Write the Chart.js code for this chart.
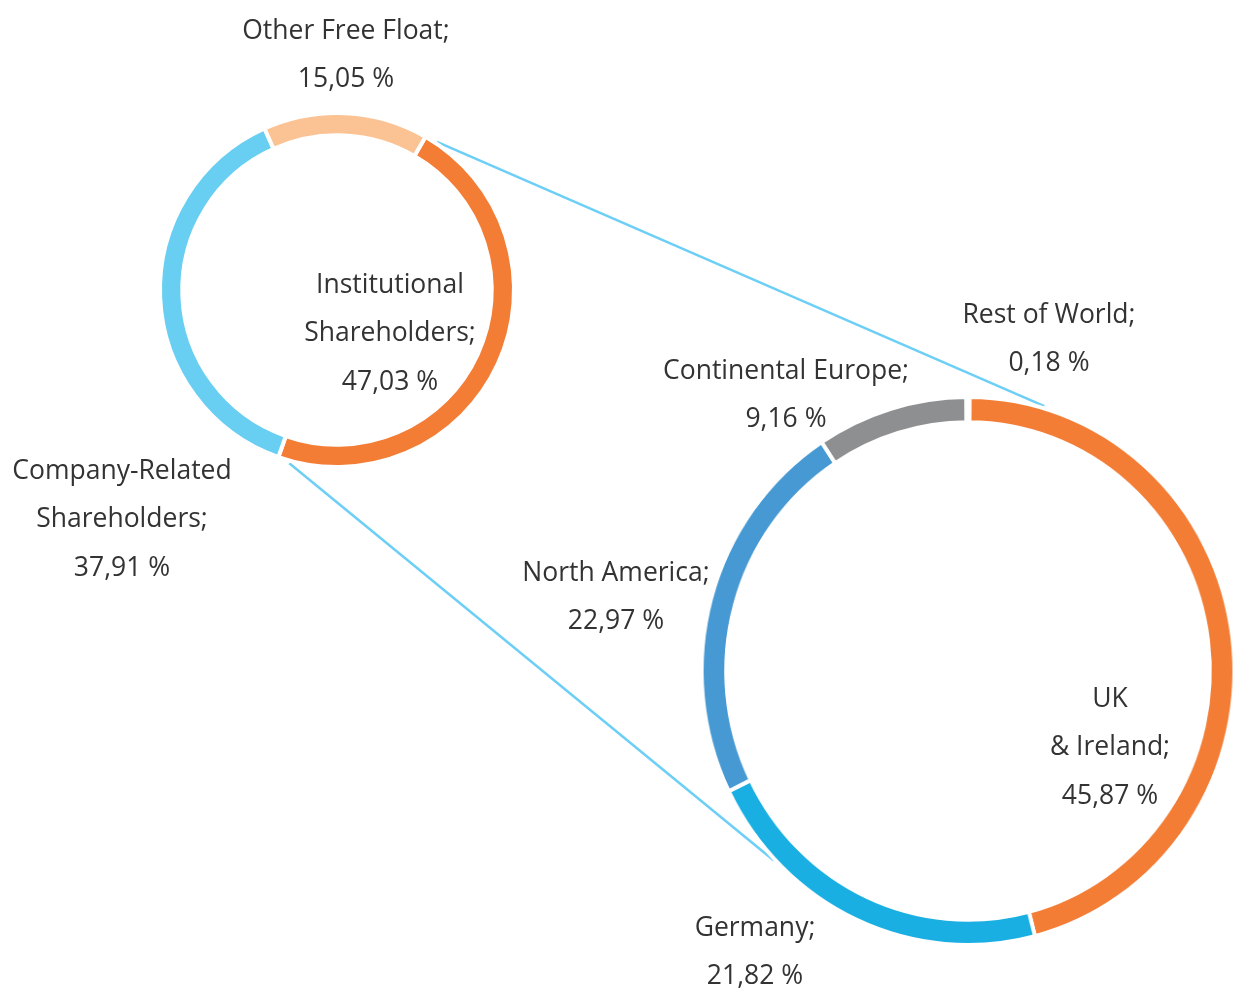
<!DOCTYPE html>
<html>
<head>
<meta charset="utf-8">
<title>Shareholder structure</title>
<script src="https://cdn.jsdelivr.net/npm/chart.js@4.4.1/dist/chart.umd.min.js"></script>
<style>
    html, body { margin: 0; padding: 0; background: #fff; overflow: hidden; }
    #wrap { position: relative; width: 1237px; height: 990px; }
    #smallChart { position: absolute; left: 0; top: 0; }
    #largeChart { position: absolute; left: 668px; top: 371px; transform: scaleX(0.972); transform-origin: 300px 300px; }
</style>
</head>
<body>
<div id="wrap">
    <canvas id="smallChart" width="1237" height="990"></canvas>
    <canvas id="largeChart" width="600" height="600"></canvas>
</div>
<script>
// Shareholder structure (outer ring)
const holderLabels = ['Institutional Shareholders', 'Company-Related Shareholders', 'Other Free Float'];
const holderValues = [47.03, 37.91, 15.05];
const holderColors = ['#f37d35', '#68cff2', '#fbc394'];
const holderLines = [
    ['Institutional', 'Shareholders;'],
    ['Company-Related', 'Shareholders;'],
    ['Other Free Float;']
];

// Institutional shareholders by region
const regionLabels = ['UK & Ireland', 'Germany', 'North America', 'Continental Europe', 'Rest of World'];
const regionValues = [45.87, 21.82, 22.97, 9.16, 0.18];
const regionColors = ['#f37d35', '#1aafe3', '#4699d3', '#8e8f91', '#c8c8c8'];
const regionLines = [
    ['UK', '& Ireland;'],
    ['Germany;'],
    ['North America;'],
    ['Continental Europe;'],
    ['Rest of World;']
];

// where the label blocks sit (centre x, first line y)
const holderLabelPos = [[390, 285], [122, 471], [346, 31]];
const regionLabelPos = [[1110, 699], [755, 928], [616, 573], [786, 371], [1049, 315]];
const LINE_GAP = 48.5;

const fmt = v => v.toFixed(2).replace('.', ',') + ' %';

let largeChart = null;

function ringPoint(arc, angleDeg, k, sx) {
    const a = angleDeg * Math.PI / 180;
    return {
        x: arc.x + Math.sin(a) * arc.outerRadius * k * sx,
        y: arc.y - Math.cos(a) * arc.outerRadius * k
    };
}

/**
 * Connector lines and all text labels
 */
const annotations = {
    id: 'annotations',
    beforeDatasetsDraw(chart) {
        if (!largeChart) return;
        const ctx = chart.ctx;
        const small = chart.getDatasetMeta(0).data[0];
        const bigArc = largeChart.getDatasetMeta(0).data[0];
        // large canvas is offset and squeezed horizontally
        const big = { x: 968, y: 371 + bigArc.y, outerRadius: bigArc.outerRadius };
        const pairs = [[34, 1.01, 16.5, 1.008], [195.4, 1.015, 226.5, 1.005]];
        ctx.save();
        ctx.strokeStyle = '#6dcff6';
        ctx.lineWidth = 2.5;
        pairs.forEach(p => {
            const a = ringPoint(small, p[0], p[1], 1);
            const b = ringPoint(big, p[2], p[3], 0.972);
            ctx.beginPath();
            ctx.moveTo(a.x, a.y);
            ctx.lineTo(b.x, b.y);
            ctx.stroke();
        });
        ctx.restore();
    },
    afterDraw(chart) {
        const ctx = chart.ctx;
        ctx.save();
        ctx.font = '26.5px "Open Sans", "Noto Sans", sans-serif';
        ctx.fillStyle = '#333333';
        ctx.textAlign = 'center';
        ctx.textBaseline = 'middle';
        const drawBlock = (lines, value, pos) => {
            const all = lines.concat([fmt(value)]);
            all.forEach((t, i) => ctx.fillText(t, pos[0], pos[1] + i * LINE_GAP));
        };
        holderLines.forEach((l, i) => drawBlock(l, holderValues[i], holderLabelPos[i]));
        regionLines.forEach((l, i) => drawBlock(l, regionValues[i], regionLabelPos[i]));
        ctx.restore();
    }
};

function ringOptions(rotation, radius, cutout, padding) {
    return {
        responsive: false,
        animation: false,
        events: [],
        rotation: rotation,
        radius: radius,
        cutout: cutout,
        layout: { padding: padding },
        plugins: {
            legend: { display: false },
            tooltip: { enabled: false }
        }
    };
}

// big ring first so the small chart can read its geometry
largeChart = new Chart(document.getElementById('largeChart'), {
    type: 'doughnut',
    data: {
        labels: regionLabels,
        datasets: [{
            data: regionValues,
            backgroundColor: regionColors,
            borderColor: '#ffffff',
            borderWidth: 4
        }]
    },
    options: ringOptions(0.3, 274, 247, 26)
});

new Chart(document.getElementById('smallChart'), {
    type: 'doughnut',
    data: {
        labels: holderLabels,
        datasets: [{
            data: holderValues,
            backgroundColor: holderColors,
            borderColor: '#ffffff',
            borderWidth: 4
        }]
    },
    options: ringOptions(30, 177, 153, { left: 160, right: 723, top: 113, bottom: 523 }),
    plugins: [annotations]
});
</script>
</body>
</html>
